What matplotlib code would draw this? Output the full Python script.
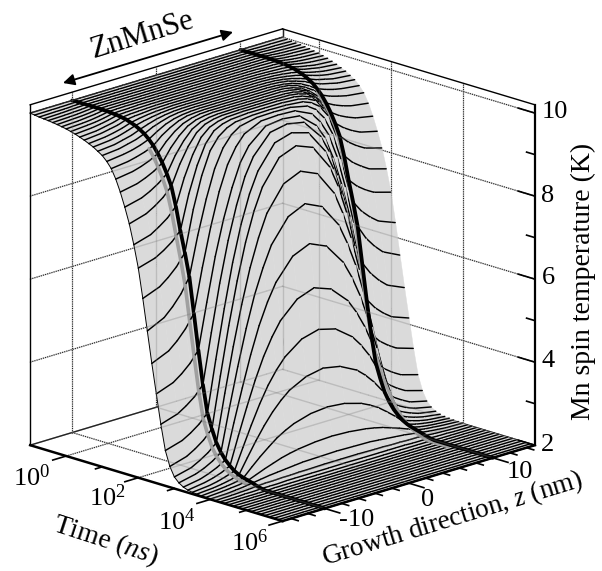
import numpy as np
import matplotlib
matplotlib.use('Agg')
import matplotlib.pyplot as plt
from mpl_toolkits.mplot3d.art3d import Poly3DCollection

plt.rcParams['font.family'] = ['Liberation Serif']
plt.rcParams['mathtext.fontset'] = 'custom'
plt.rcParams['mathtext.rm'] = 'Liberation Serif'
plt.rcParams['mathtext.it'] = 'Liberation Serif:italic'

# log10 of time in ns, one curve every eighth of a decade
log_time = [-1, -.875, -.75, -.625, -.5, -.375, -.25, -.125,
            0, .125, .25, .375, .5, .625, .75, .875,
            1, 1.125, 1.25, 1.375, 1.5, 1.625, 1.75, 1.875,
            2, 2.125, 2.25, 2.375, 2.5, 2.625, 2.75, 2.875,
            3, 3.125, 3.25, 3.375, 3.5, 3.625, 3.75, 3.875,
            4, 4.125, 4.25, 4.375, 4.5, 4.625, 4.75, 4.875,
            5, 5.125, 5.25, 5.375, 5.5, 5.625, 5.75, 5.875, 6]

# positive half of the z axis, profile is symmetric around 0
z_half = [0, 2, 4, 5, 6, 7, 8, 9, 10, 11, 12, 13, 15]

# temperature, one row per time
temp_half = [
    [10, 10, 10, 10, 10, 10, 10, 10, 10, 10, 10, 10, 10],
    [10, 10, 10, 10, 10, 10, 10, 10, 10, 9.995, 9.99, 9.99, 9.985],
    [10, 10, 10, 10, 10, 10, 10, 10, 10, 9.99, 9.98, 9.98, 9.97],
    [10, 10, 10, 10, 10, 10, 10, 10, 10, 9.99, 9.98, 9.97, 9.96],
    [10, 10, 10, 10, 10, 10, 10, 10, 10, 9.98, 9.97, 9.96, 9.95],
    [10, 10, 10, 10, 10, 10, 10, 10, 10, 9.98, 9.96, 9.95, 9.935],
    [10, 10, 10, 10, 10, 10, 10, 10, 10, 9.97, 9.95, 9.94, 9.92],
    [10, 10, 10, 10, 10, 10, 10, 9.997, 9.995, 9.96, 9.94, 9.92, 9.90],
    [10, 10, 10, 10, 10, 10, 10, 9.994, 9.99, 9.95, 9.92, 9.90, 9.88],
    [10, 10, 10, 10, 10, 10, 9.99, 9.987, 9.98, 9.935, 9.90, 9.88, 9.85],
    [10, 10, 10, 10, 10, 9.995, 9.99, 9.98, 9.97, 9.92, 9.88, 9.85, 9.82],
    [10, 10, 10, 10, 9.997, 9.99, 9.98, 9.97, 9.95, 9.89, 9.85, 9.81, 9.78],
    [10, 10, 10, 10, 9.995, 9.99, 9.97, 9.955, 9.93, 9.86, 9.82, 9.78, 9.74],
    [10, 10, 10, 10, 9.99, 9.98, 9.96, 9.93, 9.89, 9.82, 9.77, 9.73, 9.69],
    [10, 10, 10, 10, 9.99, 9.97, 9.94, 9.90, 9.85, 9.78, 9.72, 9.68, 9.64],
    [10, 10, 10, 9.995, 9.985, 9.96, 9.92, 9.86, 9.79, 9.71, 9.66, 9.61, 9.57],
    [10, 10, 10, 9.995, 9.98, 9.95, 9.89, 9.82, 9.72, 9.64, 9.59, 9.54, 9.5],
    [10, 10, 10, 9.99, 9.97, 9.93, 9.86, 9.75, 9.62, 9.54, 9.48, 9.44, 9.39],
    [10, 10, 10, 9.99, 9.97, 9.91, 9.81, 9.68, 9.5, 9.41, 9.35, 9.3, 9.25],
    [10, 10, 10, 9.99, 9.95, 9.88, 9.75, 9.57, 9.34, 9.23, 9.15, 9.09, 9.03],
    [10, 10, 10, 9.98, 9.94, 9.85, 9.68, 9.45, 9.15, 9.01, 8.91, 8.83, 8.75],
    [10, 10, 9.99, 9.97, 9.92, 9.81, 9.59, 9.30, 8.92, 8.75, 8.62, 8.52, 8.42],
    [10, 10, 9.99, 9.96, 9.9, 9.76, 9.49, 9.12, 8.65, 8.44, 8.29, 8.17, 8.05],
    [10, 10, 9.98, 9.94, 9.86, 9.68, 9.32, 8.83, 8.2, 7.98, 7.83, 7.7, 7.58],
    [9.99, 9.99, 9.96, 9.91, 9.81, 9.56, 9.1, 8.47, 7.65, 7.44, 7.29, 7.17, 7.05],
    [9.98, 9.97, 9.93, 9.85, 9.7, 9.42, 8.88, 8.13, 7.15, 6.87, 6.67, 6.51, 6.35],
    [9.96, 9.95, 9.86, 9.72, 9.46, 9.02, 8.35, 7.54, 6.6, 6.25, 6.0, 5.8, 5.6],
    [9.92, 9.9, 9.71, 9.46, 9.09, 8.5, 7.71, 6.79, 5.75, 5.44, 5.21, 5.03, 4.85],
    [9.86, 9.81, 9.46, 9.12, 8.57, 7.88, 7.03, 5.99, 4.9, 4.64, 4.45, 4.3, 4.15],
    [9.77, 9.69, 9.23, 8.81, 8.18, 7.39, 6.42, 5.29, 4.1, 3.87, 3.71, 3.58, 3.45],
    [9.59, 9.47, 8.91, 8.42, 7.75, 6.89, 5.84, 4.68, 3.45, 3.24, 3.09, 2.97, 2.85],
    [9.31, 9.15, 8.56, 8.04, 7.35, 6.48, 5.46, 4.31, 3.1, 2.89, 2.74, 2.62, 2.5],
    [8.73, 8.55, 7.96, 7.43, 6.77, 5.94, 4.99, 3.93, 2.8, 2.62, 2.49, 2.38, 2.28],
    [7.98, 7.79, 7.23, 6.74, 6.15, 5.4, 4.54, 3.6, 2.6, 2.45, 2.34, 2.26, 2.17],
    [7.05, 6.87, 6.36, 5.95, 5.44, 4.8, 4.06, 3.28, 2.45, 2.33, 2.24, 2.17, 2.1],
    [6.02, 5.87, 5.47, 5.14, 4.73, 4.22, 3.63, 3.0, 2.34, 2.24, 2.17, 2.12, 2.06],
    [5.05, 4.94, 4.63, 4.38, 4.07, 3.68, 3.23, 2.75, 2.25, 2.18, 2.12, 2.08, 2.04],
    [4.15, 4.07, 3.86, 3.68, 3.46, 3.19, 2.88, 2.54, 2.19, 2.13, 2.09, 2.06, 2.03],
    [3.25, 3.21, 3.09, 2.99, 2.87, 2.71, 2.54, 2.35, 2.15, 2.10, 2.07, 2.05, 2.02],
    [2.58, 2.56, 2.51, 2.47, 2.42, 2.35, 2.28, 2.2, 2.12, 2.08, 2.06, 2.04, 2.015],
    [2.25, 2.24, 2.23, 2.21, 2.19, 2.17, 2.15, 2.12, 2.09, 2.06, 2.04, 2.02, 2.01],
    [2.09, 2.09, 2.08, 2.08, 2.07, 2.07, 2.06, 2.06, 2.05, 2.03, 2.02, 2.01, 2.0],
    [2.035, 2.03, 2.03, 2.03, 2.03, 2.03, 2.02, 2.02, 2.02, 2.01, 2.01, 2.0, 2.0],
    [2.01, 2.01, 2.01, 2.01, 2.01, 2.01, 2.01, 2.01, 2.0, 2.0, 2.0, 2.0, 2.0],
    [2, 2, 2, 2, 2, 2, 2, 2, 2, 2, 2, 2, 2],
    [2, 2, 2, 2, 2, 2, 2, 2, 2, 2, 2, 2, 2],
    [2, 2, 2, 2, 2, 2, 2, 2, 2, 2, 2, 2, 2],
    [2, 2, 2, 2, 2, 2, 2, 2, 2, 2, 2, 2, 2],
    [2, 2, 2, 2, 2, 2, 2, 2, 2, 2, 2, 2, 2],
    [2, 2, 2, 2, 2, 2, 2, 2, 2, 2, 2, 2, 2],
    [2, 2, 2, 2, 2, 2, 2, 2, 2, 2, 2, 2, 2],
    [2, 2, 2, 2, 2, 2, 2, 2, 2, 2, 2, 2, 2],
    [2, 2, 2, 2, 2, 2, 2, 2, 2, 2, 2, 2, 2],
    [2, 2, 2, 2, 2, 2, 2, 2, 2, 2, 2, 2, 2],
    [2, 2, 2, 2, 2, 2, 2, 2, 2, 2, 2, 2, 2],
    [2, 2, 2, 2, 2, 2, 2, 2, 2, 2, 2, 2, 2],
    [2, 2, 2, 2, 2, 2, 2, 2, 2, 2, 2, 2, 2],
]

time_major = [0, 2, 4, 6]
time_minor = [1, 3, 5]
time_labels = ['$10^{0}$', '$10^{2}$', '$10^{4}$', '$10^{6}$']
z_major = [-10, 0, 10]
z_minor = [-14, -12, -8, -6, -4, -2, 2, 4, 6, 8, 12, 14]
temp_major = [2, 4, 6, 8, 10]
temp_minor = [3, 5, 7, 9]

t_lo, t_hi = -1, 6
z_lo, z_hi = -15, 15
T_lo, T_hi = 2, 10.2

W, H = 602, 571
fig = plt.figure(figsize=(W / 100, H / 100), dpi=100)
ax = fig.add_axes([-10.7 / W, 2.8 / H, H / W, 1], projection='3d')
ax.set_proj_type('ortho')
ax.view_init(elev=17.5, azim=-45)
ax.set_box_aspect((1, 1, 1), zoom=1.051)
ax.set_xlim(t_lo, t_hi)
ax.set_ylim(z_lo, z_hi)
ax.set_zlim(T_lo, T_hi)
ax.set_axis_off()
ax.computed_zorder = False

# mirror the half profile
z_all = np.array([-v for v in z_half[:0:-1]] + z_half, dtype=float)
temp = np.array(temp_half, dtype=float)
temp = np.hstack([temp[:, :0:-1], temp])
lt = np.array(log_time, dtype=float)


def seg(x, y, z, **kw):
    ax.plot(x, y, z, solid_capstyle='round', **kw)


# back walls and floor
grid_lines = []
for v in z_major:
    grid_lines.append(([t_lo, t_lo], [v, v], [T_lo, T_hi]))
    grid_lines.append(([t_lo, t_hi], [v, v], [T_lo, T_lo]))
for v in time_major[:-1]:
    grid_lines.append(([v, v], [z_hi, z_hi], [T_lo, T_hi]))
    grid_lines.append(([v, v], [z_lo, z_hi], [T_lo, T_lo]))
for v in temp_major[1:]:
    grid_lines.append(([t_lo, t_lo], [z_lo, z_hi], [v, v]))
    grid_lines.append(([t_lo, t_hi], [z_hi, z_hi], [v, v]))
for g in grid_lines:
    ax.plot(*g, color='k', lw=0.8, ls=(0, (1, 1)), zorder=1)

back_edges = [([t_lo, t_lo], [z_lo, z_hi], [T_lo, T_lo]),
              ([t_lo, t_hi], [z_hi, z_hi], [T_lo, T_lo]),
              ([t_lo, t_lo], [z_hi, z_hi], [T_lo, T_hi])]
for g in back_edges:
    ax.plot(*g, color='k', lw=1.0, zorder=1)

# surface back to front, one cell at a time so that the ridge hides what is behind it
order = 10
shade = '#dadada'
n_t, n_z = temp.shape
for i in range(n_t - 1):
    for j in range(n_z - 2, -1, -1):
        quad = [(lt[i], z_all[j], temp[i, j]), (lt[i], z_all[j + 1], temp[i, j + 1]),
                (lt[i + 1], z_all[j + 1], temp[i + 1, j + 1]), (lt[i + 1], z_all[j], temp[i + 1, j])]
        order += 1
        ax.add_collection3d(Poly3DCollection([quad], facecolors=shade, edgecolors=shade,
                                             linewidths=0.3, zorder=order))
        order += 1
        seg(lt[i:i + 1].repeat(2), z_all[j:j + 2], temp[i, j:j + 2], color='k', lw=1.05, zorder=order)
        if z_all[j] == z_lo:
            order += 1
            seg(lt[i:i + 2], z_all[[j, j]], temp[i:i + 2, j], color='k', lw=0.7, zorder=order)
        # dark stripe next to the interface line
        if z_all[j + 1] == -10 and 1.25 <= lt[i] < 4:
            order += 1
            seg(lt[i:i + 2], z_all[[j + 1, j + 1]] - 0.5, temp[i:i + 2, j:j + 2].mean(axis=1),
                color='#a0a0a0', lw=2.6, zorder=order)
        if z_all[j + 1] == -10:
            order += 1
            seg(lt[i:i + 2], z_all[[j + 1, j + 1]], temp[i:i + 2, j + 1], color='k', lw=2.7, zorder=order)
order += 1
ax.plot(lt[-1:].repeat(n_z), z_all, temp[-1], color='k', lw=1.05, zorder=order)

# the far interface line stays visible along the fold
order += 1
far = z_all.tolist().index(10)
near = far - 1
ax.plot(lt[18:48], np.full(30, 9.5), temp[18:48, near:far + 1].mean(axis=1), color='#a0a0a0', lw=2.2, zorder=order)
order += 1
ax.plot(lt, z_all[far].repeat(n_t), temp[:, far], color='k', lw=2.7, zorder=order, solid_capstyle='round')

# things behind the surface still shine through it a little
order += 1
for g in grid_lines + back_edges:
    ax.plot(*g, color='#777777', lw=1.0, alpha=0.3, zorder=order)

# frame on top
order += 1
frame = dict(color='k', zorder=order)
ax.plot([t_lo, t_lo], [z_lo, z_hi], [T_hi, T_hi], lw=1.0, **frame)
ax.plot([t_lo, t_hi], [z_hi, z_hi], [T_hi, T_hi], lw=1.0, **frame)
ax.plot([t_lo, t_lo], [z_lo, z_lo], [T_lo, T_hi], lw=1.0, **frame)
ax.plot([t_lo, t_hi], [z_lo, z_lo], [T_lo, T_lo], lw=1.8, **frame)
ax.plot([t_hi, t_hi], [z_lo, z_hi], [T_lo, T_lo], lw=1.8, **frame)
ax.plot([t_hi, t_hi], [z_hi, z_hi], [T_lo, T_hi], lw=1.6, **frame)

# ticks
for v in time_major:
    ax.plot([v, v], [z_lo, z_lo - 1.6], [T_lo, T_lo], lw=1.2, **frame)
for v in time_minor:
    ax.plot([v, v], [z_lo, z_lo - 0.8], [T_lo, T_lo], lw=1.2, **frame)
for v in z_major:
    ax.plot([t_hi, t_hi + 0.42], [v, v], [T_lo, T_lo], lw=1.2, **frame)
for v in z_minor:
    ax.plot([t_hi, t_hi + 0.2], [v, v], [T_lo, T_lo], lw=1.2, **frame)
for v in temp_major:
    ax.plot([t_hi - 0.46, t_hi], [z_hi, z_hi], [v, v], lw=1.2, **frame)
for v in temp_minor:
    ax.plot([t_hi - 0.23, t_hi], [z_hi, z_hi], [v, v], lw=1.2, **frame)


def label(px, py, s, size=19, rot=0):
    fig.text(px / W, 1 - py / H, s, fontsize=size, rotation=rot, ha='center', va='center',
             rotation_mode='anchor')


for s, px, py in zip(time_labels, [32, 107, 177, 250], [478, 498, 522, 543]):
    label(px, py, s)
for s, px, py in zip(['-10', '0', '10'], [357, 428, 520], [520, 500, 472]):
    label(px, py, s)
for v, px, py in zip(temp_major, [548, 548, 548, 548, 555], [445, 361, 278, 196, 112]):
    label(px, py, str(v))

label(583, 281, 'Mn spin temperature (K)', 20, 90)
label(106, 541, r'Time $\mathit{(ns)}$', 20, -18)
label(453, 519, r'Growth direction, $z$ (nm)', 19.6, 17)
label(142, 35, 'ZnMnSe', 22, 17)

fig.patches.append(matplotlib.patches.FancyArrowPatch(
    (63 / W, 1 - 83 / H), (233 / W, 1 - 32 / H), transform=fig.transFigure,
    arrowstyle='<|-|>', mutation_scale=17, color='k', lw=1.3, shrinkA=0, shrinkB=0))

fig.savefig('out.png', dpi=100)
